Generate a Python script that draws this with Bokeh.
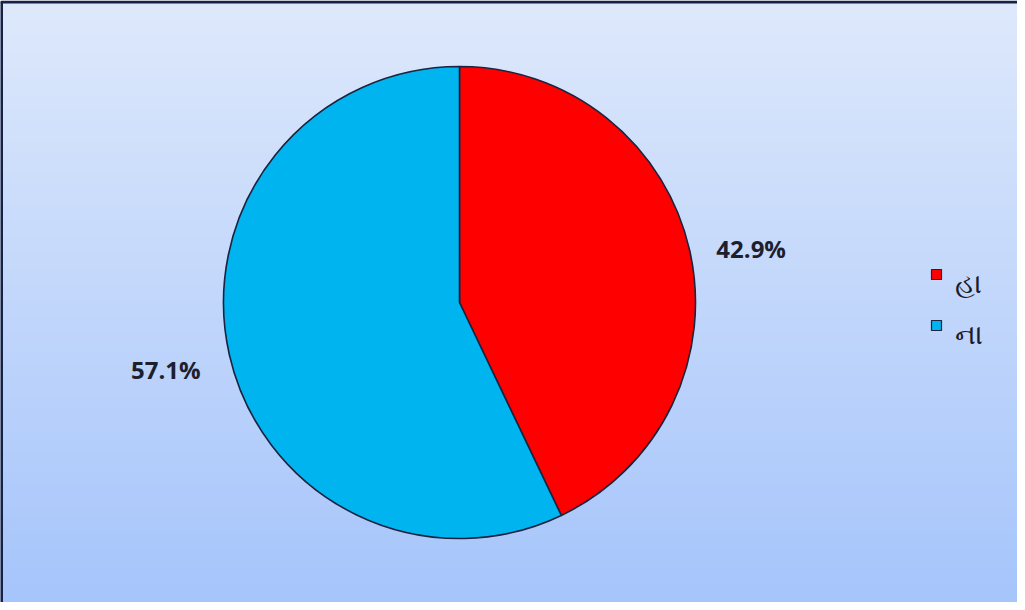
import numpy as np
from bokeh.plotting import figure
from bokeh.models import Range1d, ColumnDataSource
from bokeh.core.properties import value
from bokeh.embed import file_html
from bokeh.resources import INLINE

# ---- data ----
categories = ["હા", "ના"]
shares = [42.9, 57.1]
colors = ["#ff0000", "#00b5ef"]

W, H = 1017, 602
p = figure(width=W, height=H, output_backend="svg", toolbar_location=None,
           x_range=Range1d(0, W), y_range=Range1d(0, H), min_border=0)
p.axis.visible = False
p.grid.visible = False
p.outline_line_color = None
p.background_fill_color = None
p.border_fill_color = "white"

# background gradient (decoration)
n = 256
t = np.linspace(0, 1, n)[:, None]  # 0 bottom -> 1 top
top = np.array([222, 233, 251])
bot = np.array([166, 197, 252])
rgb = (bot + (top - bot) * t).astype(np.uint32)
img = np.zeros((n, 1), dtype=np.uint32)
view = img.view(dtype=np.uint8).reshape((n, 1, 4))
view[:, 0, 0] = rgb[:, 0]
view[:, 0, 1] = rgb[:, 1]
view[:, 0, 2] = rgb[:, 2]
view[:, 0, 3] = 255
p.image_rgba(image=[img], x=0, y=0, dw=W, dh=H - 1)

# frame border (left and top only visible)
p.line(x=[1, 1], y=[0, H - 1], line_color="#14234a", line_width=3)
p.line(x=[0, W], y=[H - 1.5, H - 1.5], line_color="#14234a", line_width=3)

# pie
cx, cy, r = 459, 300, 236
fr = np.array(shares) / sum(shares)
cum = np.concatenate([[0], np.cumsum(fr)])
start = np.pi / 2 - cum[1:] * 2 * np.pi
end = np.pi / 2 - cum[:-1] * 2 * np.pi
src = ColumnDataSource(dict(start=start, end=end, color=colors, cat=categories))
p.wedge(x=cx, y=cy, radius=r, radius_units="screen", start_angle="start",
        end_angle="end", fill_color="color", line_color="#1b2340",
        line_width=1.6, source=src)

# data labels
mid = (start + end) / 2
rl = 296
lab = ColumnDataSource(dict(x=cx + rl * np.cos(mid), y=cy + rl * np.sin(mid),
                            t=["%.1f%%" % s for s in shares],
                            dx=[3, -5], dy=[11, 2]))
p.text(x="x", y="y", text="t", source=lab, x_offset="dx", y_offset="dy",
       text_align="center", text_baseline="middle", text_font=value("Open Sans"),
       text_font_style="bold", text_font_size="24px", text_color="#1e1f2e")

# legend (drawn manually)
lx, ly0, lstep = 936, 328, 51
leg = ColumnDataSource(dict(x=[lx] * len(categories),
                            y=[ly0 - i * lstep for i in range(len(categories))],
                            c=colors, t=categories))
p.rect(x="x", y="y", width=10, height=10, width_units="screen",
       height_units="screen", fill_color="c", line_color="#1b2340",
       line_width=1.2, source=leg)
p.text(x="x", y="y", text="t", source=leg, x_offset=18, y_offset=7,
       text_align="left", text_baseline="middle", text_font=value("Noto Sans"),
       text_font_size="28px", text_color="#1a1b2a")

open("out.html", "w").write(file_html(p, INLINE))
